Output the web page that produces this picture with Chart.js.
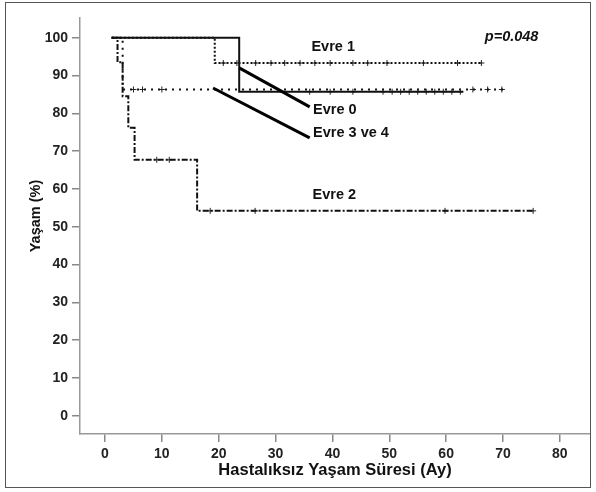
<!DOCTYPE html>
<html>
<head>
<meta charset="utf-8">
<script src="https://cdn.jsdelivr.net/npm/chart.js@4.4.1/dist/chart.umd.min.js"></script>
<style>
  html, body { margin: 0; padding: 0; background: #fff; }
  #wrap { width: 596px; height: 492px; position: relative; }
</style>
</head>
<body>
<div id="wrap"><canvas id="kmChart" width="596" height="492"></canvas></div>
<script>
// axis ticks
const xTicks = [0, 10, 20, 30, 40, 50, 60, 70, 80];
const yTicks = [0, 10, 20, 30, 40, 50, 60, 70, 80, 90, 100];

// Kaplan-Meier steps (time in months, survival %)
const evre0Time = [1.1, 23.6, 63];
const evre0Surv = [100, 85.7, 85.7];
const evre0Cens = [36, 39.6, 43.6, 48.9, 50.5, 52, 53.5, 55, 56.5, 58, 59.5, 61, 62.5];

const evre1Time = [1.2, 19.3, 66.2];
const evre1Surv = [100, 93.3, 93.3];
const evre1Cens = [20.8, 23.2, 26.5, 29.2, 31.6, 34.3, 36.9, 39.6, 43.6, 46.2, 49.6, 56, 62, 66.2];

const evre2Time = [1.2, 2.2, 3.1, 4.1, 5.2, 16.2, 75.3];
const evre2Surv = [100, 93.5, 84.5, 76.2, 67.7, 54.2, 54.2];
const evre2CensTime = [9.1, 11.3, 18.5, 26.4, 59.8, 75.3];
const evre2CensSurv = [67.7, 67.7, 54.2, 54.2, 54.2, 54.2];

const evre34Time = [1.2, 3.1, 70];
const evre34Surv = [100, 86.3, 86.3];
const evre34Cens = [5, 6.6, 10, 64.7, 67.3, 69.8];

// label pointer lines
const pointer0X = [23.6, 36];
const pointer0Y = [92, 81.7];
const pointer34X = [19, 36];
const pointer34Y = [86.7, 73.5];

const FONT = "'Liberation Sans', Arial, sans-serif";

function pts(xs, ys) {
    return xs.map((x, i) => ({ x: x, y: Array.isArray(ys) ? ys[i] : ys }));
}

function curve(xs, ys, dash, width) {
    return {
        type: 'line',
        data: pts(xs, ys),
        borderColor: '#111',
        borderWidth: width,
        borderDash: dash,
        stepped: 'before',
        pointRadius: 0,
        fill: false,
    };
}

function censor(xs, ys) {
    return {
        type: 'scatter',
        data: pts(xs, ys),
        pointStyle: 'cross',
        pointRadius: 3,
        borderColor: '#222',
        borderWidth: 1,
    };
}

function pointer(xs, ys) {
    return {
        type: 'line',
        data: pts(xs, ys),
        borderColor: '#000',
        borderWidth: 3,
        pointRadius: 0,
        fill: false,
    };
}

// text labels, y title and the frame around the figure
const labelsPlugin = {
    id: 'kmLabels',
    afterDraw(chart) {
        const ctx = chart.ctx;
        const xs = chart.scales.x;
        const ys = chart.scales.y;
        ctx.save();
        ctx.fillStyle = '#111';
        ctx.textBaseline = 'middle';
        ctx.textAlign = 'left';
        ctx.font = 'bold 14.5px ' + FONT;
        const notes = [
            ['Evre 1', 36.3, 97.4],
            ['Evre 0', 36.6, 81],
            ['Evre 3 ve 4', 36.6, 74.9],
            ['Evre 2', 36.5, 58.5],
        ];
        notes.forEach(n => ctx.fillText(n[0], xs.getPixelForValue(n[1]), ys.getPixelForValue(n[2])));
        ctx.font = 'italic bold 14.5px ' + FONT;
        ctx.fillText('p=0.048', xs.getPixelForValue(66.8), ys.getPixelForValue(100.3));

        // y axis title
        ctx.save();
        ctx.translate(36, 216);
        ctx.rotate(-Math.PI / 2);
        ctx.textAlign = 'center';
        ctx.font = 'bold 14.5px ' + FONT;
        ctx.fillText('Yaşam (%)', 0, 0);
        ctx.restore();

        ctx.strokeStyle = '#555';
        ctx.lineWidth = 1;
        ctx.strokeRect(5.5, 2.5, 585, 485);
        ctx.restore();
    }
};

const tickFont = { family: FONT, size: 14, weight: 'bold' };

const config = {
    type: 'scatter',
    data: {
        datasets: [
            pointer(pointer0X, pointer0Y),
            pointer(pointer34X, pointer34Y),
            curve(evre0Time, evre0Surv, [], 2),
            censor(evre0Cens, 85.7),
            curve(evre1Time, evre1Surv, [2, 2], 2),
            censor(evre1Cens, 93.3),
            curve(evre34Time, evre34Surv, [2, 5], 2),
            censor(evre34Cens, 86.3),
            curve(evre2Time, evre2Surv, [6, 2, 2, 2], 2),
            censor(evre2CensTime, evre2CensSurv),
        ]
    },
    options: {
        responsive: false,
        animation: false,
        layout: { padding: { left: 0, right: 6, top: 18, bottom: 0 } },
        plugins: {
            legend: { display: false },
            tooltip: { enabled: false },
        },
        scales: {
            x: {
                type: 'linear',
                min: -4.4,
                max: 85.3,
                afterFit: s => { s.height = 58; },
                afterBuildTicks: s => { s.ticks = xTicks.map(v => ({ value: v })); },
                border: { display: true, color: '#999', width: 1.5 },
                grid: { drawOnChartArea: false, drawTicks: true, tickLength: 8, color: '#888', lineWidth: 1.5 },
                ticks: { font: tickFont, color: '#222', padding: 4, maxRotation: 0 },
                title: {
                    display: true,
                    text: 'Hastalıksız Yaşam Süresi (Ay)',
                    font: { family: FONT, size: 16.5, weight: 'bold' },
                    color: '#111',
                    padding: { top: 0, bottom: 12 },
                },
            },
            y: {
                type: 'linear',
                min: -4.8,
                max: 105.2,
                afterFit: s => { s.width = 80; },
                afterBuildTicks: s => { s.ticks = yTicks.map(v => ({ value: v })); },
                border: { display: true, color: '#999', width: 1.5 },
                grid: { drawOnChartArea: false, drawTicks: true, tickLength: 8, color: '#888', lineWidth: 1.5 },
                ticks: { font: tickFont, color: '#222', padding: 4 },
            },
        },
    },
    plugins: [labelsPlugin],
};

const kmChart = new Chart(document.getElementById('kmChart').getContext('2d'), config);
</script>
</body>
</html>
